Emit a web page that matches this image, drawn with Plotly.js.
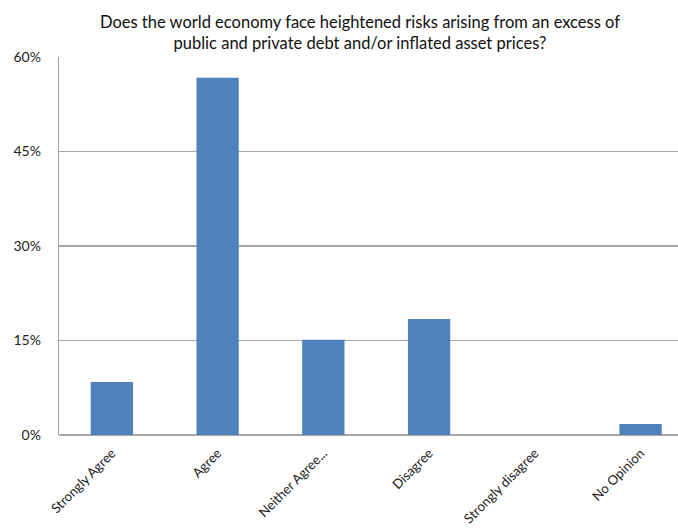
<!DOCTYPE html>
<html>
<head>
<meta charset="utf-8">
<script src="https://cdn.plot.ly/plotly-3.0.1.min.js"></script>
<style>
  html, body { margin: 0; padding: 0; background: #fff; }
  #chart { width: 678px; height: 528px; }
</style>
</head>
<body>
<div id="chart"></div>
<script>
// Survey responses (share of respondents)
const categories = ["Strongly Agree", "Agree", "Neither Agree...", "Disagree", "Strongly disagree", "No Opinion"];
const shares = [0.084, 0.567, 0.151, 0.184, 0, 0.0175];
const yTickValues = [0, 0.15, 0.30, 0.45, 0.60];
const yTickLabels = ["0%", "15%", "30%", "45%", "60%"];
const chartTitle = "Does the world economy face heightened risks arising from an excess of<br>public and private debt and/or inflated asset prices?";

const font = "Lato, 'Open Sans', sans-serif";

const trace = {
  type: "bar",
  x: categories,
  y: shares,
  marker: { color: "#4f81bd" },
  hoverinfo: "skip"
};

const layout = {
  width: 678,
  height: 528,
  margin: { l: 59, r: 0, t: 57, b: 93, pad: 0 },
  paper_bgcolor: "#ffffff",
  plot_bgcolor: "#ffffff",
  bargap: 0.6,
  showlegend: false,
  title: {
    text: chartTitle,
    font: { family: font, size: 16.5, color: "#111" },
    xref: "container",
    x: 0.531,
    xanchor: "center",
    yref: "container",
    y: 0.947,
    yanchor: "top"
  },
  xaxis: {
    type: "category",
    range: [-0.5, 5.354],
    showgrid: false,
    showline: false,
    zeroline: false,
    ticks: "",
    tickangle: -45,
    ticklabelstandoff: 7,
    tickfont: { family: font, size: 13.2, color: "#222" }
  },
  yaxis: {
    range: [0, 0.6],
    tickvals: yTickValues,
    ticktext: yTickLabels,
    showgrid: true,
    gridcolor: "#a6a6a6",
    gridwidth: 1.3,
    showline: true,
    linecolor: "#a6a6a6",
    linewidth: 1.3,
    zeroline: true,
    zerolinecolor: "#a6a6a6",
    zerolinewidth: 1.5,
    ticks: "",
    ticklabelstandoff: 14,
    tickfont: { family: font, size: 14, color: "#222" }
  }
};

Plotly.newPlot("chart", [trace], layout, { displayModeBar: false, staticPlot: true });
</script>
</body>
</html>
